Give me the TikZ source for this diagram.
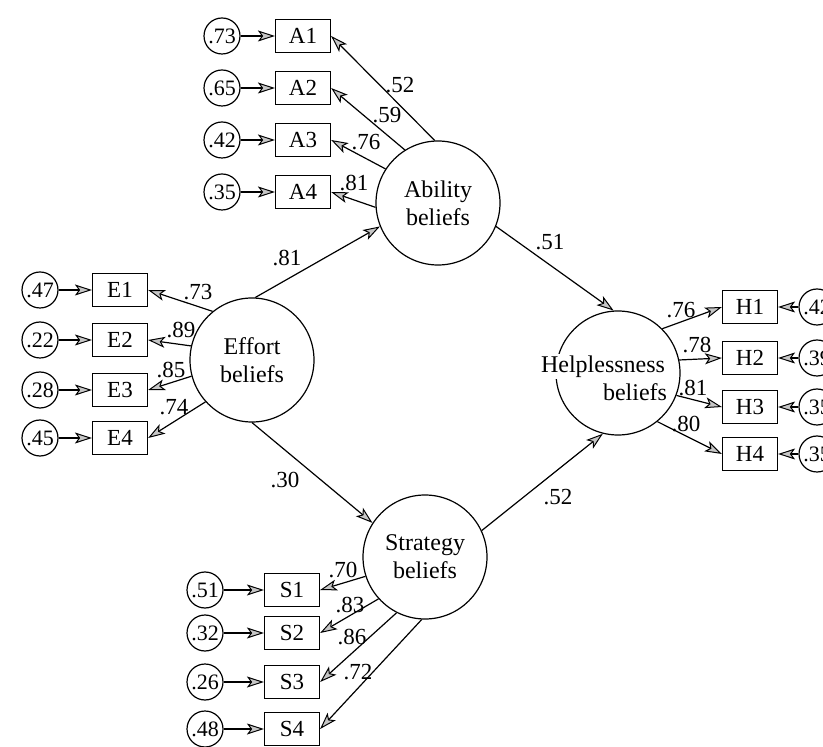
\documentclass[tikz,border=0pt]{standalone}
\usepackage{fontspec}
\setmainfont{Liberation Serif}
\usepackage{tikz}
\usetikzlibrary{arrows.meta}
\tikzstyle{latente} = [circle, draw=black, line width=0.6pt, minimum size=62pt, inner sep=0pt, align=center, font=\fontsize{12}{14}\selectfont]
\tikzstyle{mesure} = [rectangle, draw=black, line width=0.6pt, minimum width=27.5pt, minimum height=16.5pt, inner sep=0pt, font=\fontsize{11.5}{13}\selectfont]
\tikzstyle{residu} = [circle, draw=black, line width=0.6pt, minimum size=18pt, inner sep=0pt, font=\fontsize{11}{13}\selectfont]
\tikzstyle{coef} = [inner sep=0pt, font=\fontsize{11.5}{13}\selectfont]
\tikzstyle{fleche} = [line width=0.6pt, -{Stealth[length=8.5pt, width=5.5pt, inset=2pt, fill=gray!45, line width=0.5pt]}]

\begin{document}
\begin{tikzpicture}[x=0.5pt, y=-0.5pt]

        \clip (0,0) rectangle (823,747);

        % latent variables
        \node (ability) [latente] at (438,203) {Ability\\beliefs};
        \node (effort) [latente] at (252,360) {Effort\\beliefs};
        \node (strategy) [latente] at (425,557) {Strategy\\beliefs};
        \node (helpless) [latente] at (618,373) {};
        \node (helptext) [align=right, inner sep=0pt, font=\fontsize{12}{14}\selectfont] at (603,377) {{\setlength{\fboxsep}{1pt}\colorbox{white}{Helplessness}}\\beliefs};

        % ability items
        \node (a1) [mesure] at (303,36) {A1};
        \node (a2) [mesure] at (303,88) {A2};
        \node (a3) [mesure] at (303,140) {A3};
        \node (a4) [mesure] at (303,192) {A4};
        \node (ra1) [residu] at (222,36) {.73};
        \node (ra2) [residu] at (222,88) {.65};
        \node (ra3) [residu] at (222,140) {.42};
        \node (ra4) [residu] at (222,192) {.35};

        % effort items
        \node (e1) [mesure] at (120,290) {E1};
        \node (e2) [mesure] at (120,340) {E2};
        \node (e3) [mesure] at (120,390) {E3};
        \node (e4) [mesure] at (120,438) {E4};
        \node (re1) [residu] at (40,290) {.47};
        \node (re2) [residu] at (40,340) {.22};
        \node (re3) [residu] at (40,390) {.28};
        \node (re4) [residu] at (40,438) {.45};

        % strategy items
        \node (s1) [mesure] at (292,590) {S1};
        \node (s2) [mesure] at (292,633) {S2};
        \node (s3) [mesure] at (292,682) {S3};
        \node (s4) [mesure] at (292,729) {S4};
        \node (rs1) [residu] at (205,590) {.51};
        \node (rs2) [residu] at (205,633) {.32};
        \node (rs3) [residu] at (205,682) {.26};
        \node (rs4) [residu] at (205,729) {.48};

        % helplessness items
        \node (h1) [mesure] at (750,307) {H1};
        \node (h2) [mesure] at (750,358) {H2};
        \node (h3) [mesure] at (750,407) {H3};
        \node (h4) [mesure] at (750,454) {H4};
        \node (rh1) [residu] at (817,307) {.42};
        \node (rh2) [residu] at (817,358) {.39};
        \node (rh3) [residu] at (817,407) {.35};
        \node (rh4) [residu] at (817,454) {.35};

        % structural paths
        \draw[fleche] (effort.87) -- (ability.202);
        \draw[fleche] (ability.338) -- (helpless.94);
        \draw[fleche] (effort.270) -- (strategy.147);
        \draw[fleche] (strategy.25) -- (helpless.256);

        \draw[fleche] (ability.93) -- (a1.east);
        \draw[fleche] (ability.122) -- (a2.east);
        \draw[fleche] (ability.147) -- (a3.east);
        \draw[fleche] (ability.184) -- (a4.east);

        \draw[fleche] (effort.129) -- (e1.east);
        \draw[fleche] (effort.167) -- (e2.east);
        \draw[fleche] (effort.195) -- (e3.east);
        \draw[fleche] (effort.222) -- (e4.east);

        \draw[fleche] (strategy.198) -- (s1.east);
        \draw[fleche] (strategy.222) -- (s2.east);
        \draw[fleche] (strategy.243) -- (s3.east);
        \draw[fleche] (strategy.267) -- (s4.east);

        \draw[fleche] (helpless.45) -- (h1.west);
        \draw[fleche] (helpless.12) -- (h2.west);
        \draw[fleche] (helpless.339) -- (h3.west);
        \draw[fleche] (helpless.309) -- (h4.west);

        % residuals
        \draw[fleche] (ra1) -- (a1);
        \draw[fleche] (ra2) -- (a2);
        \draw[fleche] (ra3) -- (a3);
        \draw[fleche] (ra4) -- (a4);
        \draw[fleche] (re1) -- (e1);
        \draw[fleche] (re2) -- (e2);
        \draw[fleche] (re3) -- (e3);
        \draw[fleche] (re4) -- (e4);
        \draw[fleche] (rs1) -- (s1);
        \draw[fleche] (rs2) -- (s2);
        \draw[fleche] (rs3) -- (s3);
        \draw[fleche] (rs4) -- (s4);
        \draw[fleche] (rh1) -- (h1);
        \draw[fleche] (rh2) -- (h2);
        \draw[fleche] (rh3) -- (h3);
        \draw[fleche] (rh4) -- (h4);

        % coefficients
        \node (c-ea) [coef] at (287,258) {.81};
        \node (c-ah) [coef] at (550,242) {.51};
        \node (c-es) [coef] at (285,480) {.30};
        \node (c-sh) [coef] at (558,497) {.52};

        \node (ca1) [coef] at (400,85) {.52};
        \node (ca2) [coef] at (387,115) {.59};
        \node (ca3) [coef] at (366,142) {.76};
        \node (ca4) [coef] at (354,183) {.81};

        \node (ce1) [coef] at (198,292) {.73};
        \node (ce2) [coef] at (181,330) {.89};
        \node (ce3) [coef] at (171,370) {.85};
        \node (ce4) [coef] at (174,407) {.74};

        \node (cs1) [coef] at (343,570) {.70};
        \node (cs2) [coef] at (350,605) {.83};
        \node (cs3) [coef] at (352,637) {.86};
        \node (cs4) [coef] at (358,672) {.72};

        \node (ch1) [coef] at (681,310) {.76};
        \node (ch2) [coef] at (697,345) {.78};
        \node (ch3) [coef] at (693,388) {.81};
        \node (ch4) [coef] at (686,424) {.80};

    \end{tikzpicture}
\end{document}
